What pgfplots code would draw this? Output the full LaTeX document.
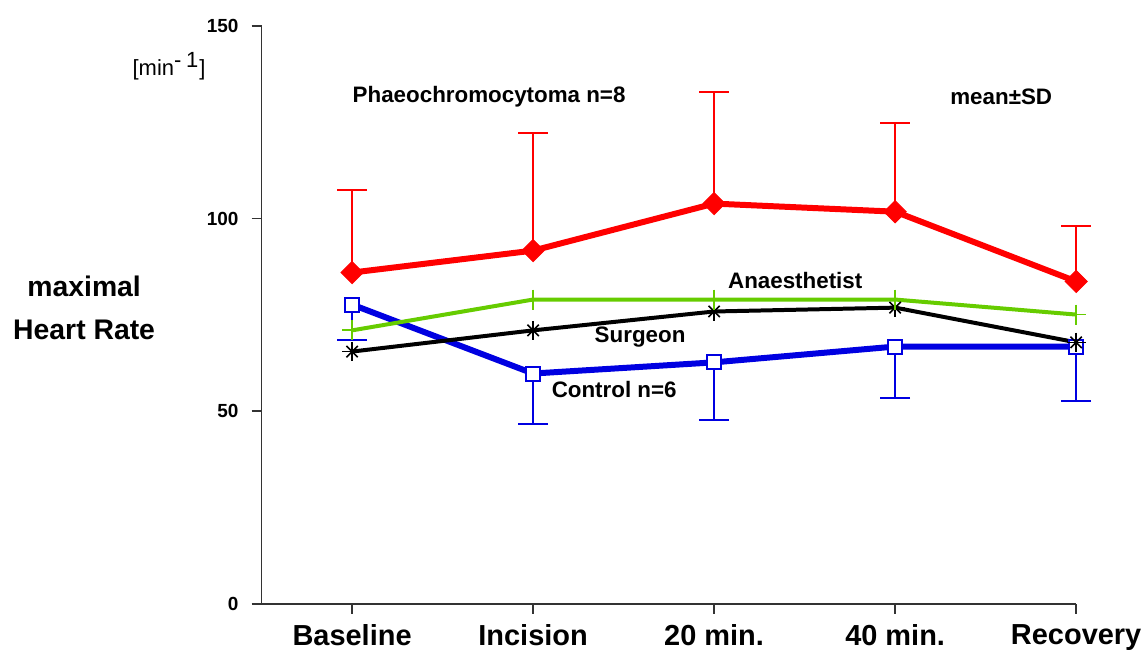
\documentclass[border=0pt]{standalone}
\usepackage{pgfplots}
\pgfplotsset{compat=1.18}
\usepackage{fontspec}
\setmainfont{Liberation Sans}
\definecolor{pred}{RGB}{255,0,0}
\definecolor{pblue}{RGB}{0,0,225}
\definecolor{pgreen}{RGB}{102,204,0}
\begin{document}
\begin{tikzpicture}
\path (0,0) rectangle (574pt,325.5pt);
\begin{axis}[
  at={(131pt,23pt)}, anchor=south west,
  scale only axis, width=408pt, height=289.5pt,
  xmin=-0.5, xmax=4, ymin=0, ymax=150,
  axis x line=bottom, axis y line=left,
  axis line style={-, line width=0.8pt, black!80},
  tick align=outside, major tick length=5pt,
  tick style={line width=0.8pt, black!80},
  xtick={0,1,2,3,4},
  xticklabels={Baseline,Incision,20 min.,40 min.,Recovery},
  ytick={0,50,100,150},
  /pgf/number format/assume math mode=true,
  yticklabel style={font=\bfseries\fontsize{9.5}{10}\selectfont, xshift=-3pt},
  xticklabel style={font=\bfseries\fontsize{14.5}{16}\selectfont, yshift=-2pt},
  clip=false,
]
% Control
\addplot[pblue, line width=3pt, mark=square*, mark size=3.5pt,
  mark options={fill=white, draw=pblue, line width=1pt},
  error bars/.cd, y dir=minus, y explicit,
  error bar style={line width=1pt, pblue},
  error mark options={line width=1pt, mark size=7.5pt, pblue, rotate=90}]
  coordinates {(0,77.7) -= (0,9.3) (1,59.8) -= (0,13.2) (2,62.7) -= (0,15) (3,66.8) -= (0,13.4) (4,66.8) -= (0,14)};
% Surgeon
\addplot[black, line width=2pt, mark=x, mark size=4pt,
  mark options={line width=0.8pt}]
  coordinates {(0,65.5) (1,71.0) (2,75.9) (3,76.9) (4,67.9)};
\addplot[black, only marks, mark=+, mark size=4.8pt,
  mark options={line width=0.8pt}]
  coordinates {(0,65.5) (1,71.0) (2,75.9) (3,76.9) (4,67.9)};
% Anaesthetist
\addplot[pgreen, line width=2pt, mark=+, mark size=5pt,
  mark options={line width=0.9pt}]
  coordinates {(0,71.0) (1,79.0) (2,79.0) (3,79.0) (4,75.1)};
% Phaeochromocytoma
\addplot[pred, line width=3pt, mark=square*, mark size=3.9pt,
  mark options={rotate=45, fill=pred, draw=pred, line width=0.5pt},
  error bars/.cd, y dir=plus, y explicit,
  error bar style={line width=1pt, pred},
  error mark options={line width=1pt, mark size=7.5pt, pred, rotate=90}]
  coordinates {(0,86.0) += (0,21.3) (1,91.7) += (0,30.6) (2,103.9) += (0,29) (3,101.8) += (0,23.1) (4,83.7) += (0,14.5)};

\node[font=\bfseries\fontsize{11.2}{13}\selectfont] at (axis cs:0.757,131.6) {Phaeochromocytoma n=8};
\node[font=\bfseries\fontsize{11.2}{13}\selectfont] at (axis cs:3.586,131.6) {mean±SD};
\node[font=\bfseries\fontsize{11.2}{13}\selectfont] at (axis cs:2.448,83.9) {Anaesthetist};
\node[font=\bfseries\fontsize{11.2}{13}\selectfont] at (axis cs:1.591,69.2) {Surgeon};
\node[font=\bfseries\fontsize{11.2}{13}\selectfont] at (axis cs:1.448,55.7) {Control n=6};
\node[font=\fontsize{11}{12}\selectfont] at (axis cs:-1.011,139.6) {[min$^{\textrm{-}\;\textrm{1}}$]};
\node[font=\bfseries\fontsize{14.2}{21.5}\selectfont, align=center] at (axis cs:-1.48,76.9) {maximal\\Heart Rate};
\end{axis}
\end{tikzpicture}
\end{document}
